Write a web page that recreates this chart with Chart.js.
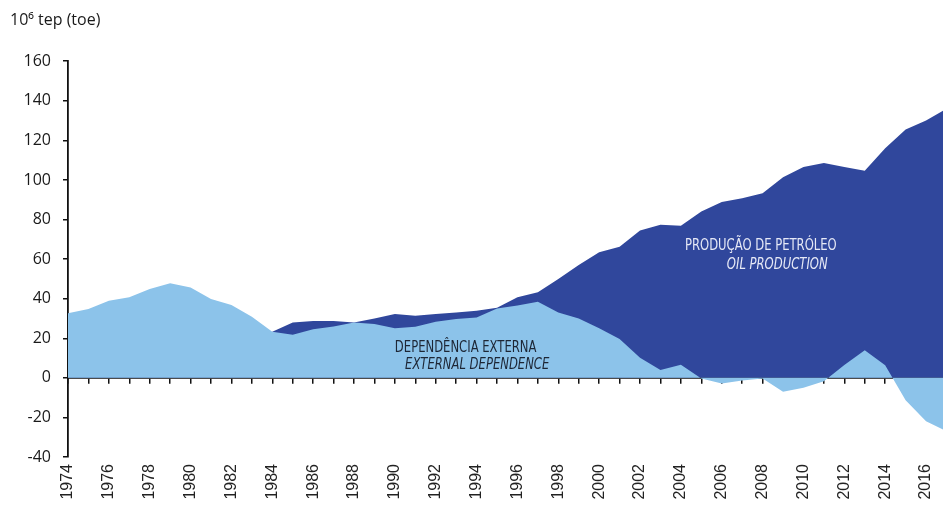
<!DOCTYPE html>
<html><head><meta charset="utf-8">
<script src="https://cdn.jsdelivr.net/npm/chart.js@4/dist/chart.umd.min.js"></script>
<style>html,body{margin:0;padding:0;background:#fff}</style>
</head><body>
<canvas id="c" width="943" height="505"></canvas>
<script>
const years = [1974,1975,1976,1977,1978,1979,1980,1981,1982,1983,1984,1985,1986,1987,1988,1989,1990,1991,1992,1993,1994,1995,1996,1997,1998,1999,2000,2001,2002,2003,2004,2005,2006,2007,2008,2009,2010,2011,2012,2013,2014,2015,2016,2017];
const externalDependence = [32.6,34.8,39,40.7,44.9,47.8,45.7,39.8,36.8,30.9,23.3,21.8,24.5,26,28,27.2,25,25.8,28.4,29.7,30.5,35.1,36.5,38.5,33,30,25,19.6,10.1,3.9,6.6,-0.3,-2.9,-1.4,-0.3,-7,-5,-1.7,6.5,14,6.4,-11.3,-21.9,-27];
const oilProduction = [9.5,9,8.5,8,8,8.5,9.5,11,13.5,17.5,23.3,28,28.7,28.7,28,30,32.2,31.4,32.2,33,33.9,35.4,40.7,43.2,50,57,63.4,66.3,74.4,77.3,76.8,84,88.8,90.8,93.3,101.3,106.5,108.5,106.5,104.6,116,125.5,130,136];
const yTickValues = [-40,-20,0,20,40,60,80,100,120,140,160];
const unitLabel = '10\u2076 tep (toe)';
const seriesLabels = [
  {text:'PRODUÇÃO DE PETRÓLEO', x:2004.2, y:66.5, italic:false, color:'#e6e9f6'},
  {text:'OIL PRODUCTION', x:2006.25, y:57, italic:true, color:'#e6e9f6'},
  {text:'DEPENDÊNCIA EXTERNA', x:1990.0, y:15.2, italic:false, color:'#1d2635'},
  {text:'EXTERNAL DEPENDENCE', x:1990.5, y:6.6, italic:true, color:'#1d2635'}
];

const toPoints = (vals) => years.map((yr, i) => ({x: yr, y: vals[i]}));

const textPlugin = {
  id: 'seriesText',
  afterDatasetsDraw(chart) {
    const {ctx, scales} = chart;
    seriesLabels.forEach(l => {
      ctx.save();
      ctx.textBaseline = 'middle';
      ctx.textAlign = 'left';
      ctx.font = (l.italic ? 'italic ' : '') + '15px "Liberation Sans Narrow", "DejaVu Sans Condensed", sans-serif';
      ctx.fillStyle = l.color;
      ctx.translate(scales.x.getPixelForValue(l.x), scales.y.getPixelForValue(l.y));
      ctx.scale(0.86, 1);
      ctx.fillText(l.text, 0, 0);
      ctx.restore();
    });
  }
};

const noSidePadding = s => { s.paddingLeft = 0; s.paddingRight = 0; };

new Chart(document.getElementById('c'), {
  type: 'line',
  data: {
    datasets: [
      {label: 'Dependência externa', data: toPoints(externalDependence), backgroundColor: '#8cc3ea', borderWidth: 0, pointRadius: 0, fill: 'origin', tension: 0, xAxisID: 'x', yAxisID: 'y'},
      {label: 'Produção de petróleo', data: toPoints(oilProduction), backgroundColor: '#30479c', borderWidth: 0, pointRadius: 0, fill: 'origin', tension: 0, xAxisID: 'x', yAxisID: 'y'}
    ]
  },
  options: {
    responsive: false,
    animation: false,
    layout: {padding: {left: 10, right: 0, top: 0, bottom: 0}},
    plugins: {
      legend: {display: false},
      tooltip: {enabled: false},
      title: {display: true, text: unitLabel, align: 'start', color: '#1a1a1a', font: {family: '"Open Sans", sans-serif', size: 16, weight: 'normal'}, padding: {top: 11, bottom: 31}}
    },
    scales: {
      x: {
        type: 'linear', position: 'bottom', min: years[0], max: 2016.83,
        grid: {display: false, drawTicks: false}, border: {display: false},
        ticks: {stepSize: 2, includeBounds: false, autoSkip: false, minRotation: 90, maxRotation: 90, padding: 7, color: '#222', font: {family: '"Liberation Sans", Arial, sans-serif', size: 16}, callback: v => String(v)},
        afterFit: s => { s.height = 48; noSidePadding(s); }
      },
      x0: {
        type: 'linear', position: {y: 0}, min: years[0], max: 2016.83, z: 1,
        grid: {drawOnChartArea: false, drawTicks: true, tickLength: 5, color: '#111', lineWidth: 1.5},
        border: {display: true, color: '#111', width: 1.8},
        ticks: {display: false, stepSize: 1, includeBounds: false, autoSkip: false},
        afterFit: noSidePadding
      },
      y: {
        type: 'linear', position: 'left', min: -40, max: 160, z: 1,
        afterBuildTicks: s => { s.ticks = yTickValues.map(v => ({value: v})); },
        grid: {drawOnChartArea: false, drawTicks: true, tickLength: 5, color: '#111', lineWidth: 1.5},
        border: {display: true, color: '#111', width: 1.8},
        ticks: {padding: 12, color: '#1a1a1a', font: {family: '"Open Sans", sans-serif', size: 16}},
        afterFit: s => { s.width = 58; }
      }
    }
  },
  plugins: [textPlugin]
});
</script>
</body></html>
